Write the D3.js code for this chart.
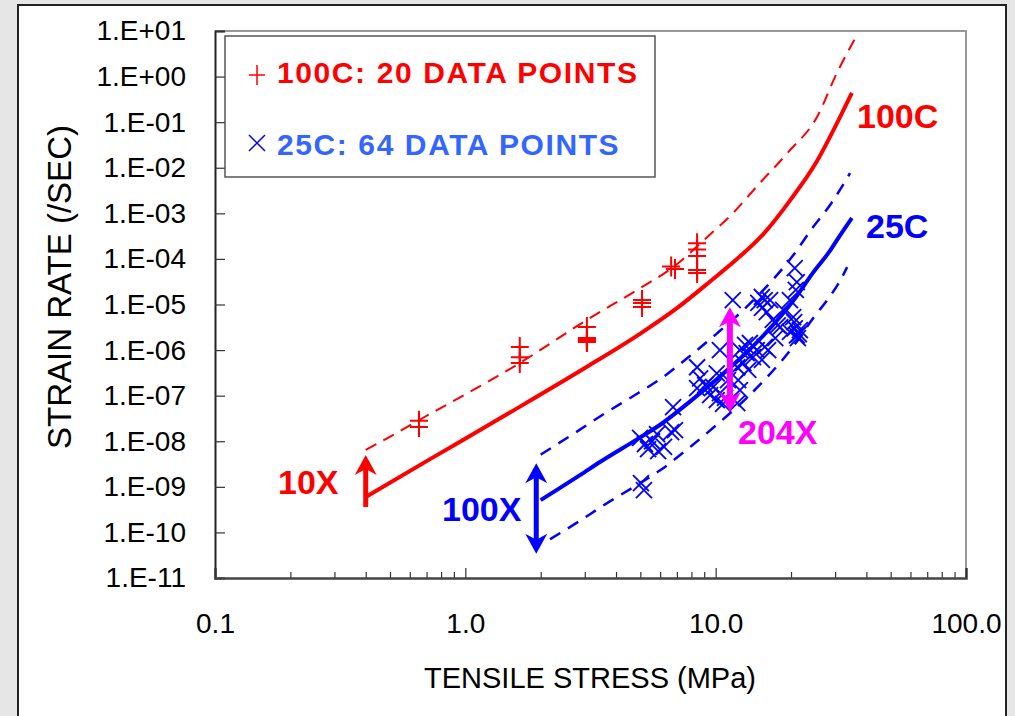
<!DOCTYPE html>
<html>
<head>
<meta charset="utf-8">
<script src="https://cdn.jsdelivr.net/npm/d3@7"></script>
<style>
  body { margin: 0; background: #e6e6e6; font-family: "Liberation Sans", Arial, sans-serif; }
</style>
</head>
<body>
<svg id="chart"></svg>
<script>
// ---- data ----
// 100C model line and upper band (MPa, 1/sec)
let red100Stress = [0.4, 0.72, 1.5, 3.06, 5.0, 7.0, 9.5, 12.0, 15.5, 19.8, 25.4, 30.0, 35]
let red100Rate = [6.0e-10, 4.0e-9, 4.2e-8, 4.3e-7, 2.3e-6, 8.3e-6, 3.2e-5, 9.3e-5, 3.5e-4, 1.9e-3, 1.4e-2, 7.9e-2, 0.44]
let red100UpperStress = [0.4, 0.456, 0.66, 1.65, 3.06, 5.0, 6.76, 9.24, 11.7, 15.0, 19.5, 25.4, 30.5, 36.7]
let red100UpperRate = [6.5e-9, 9.5e-9, 3.0e-8, 5.2e-7, 4.6e-6, 2.3e-5, 6.6e-5, 3.0e-4, 1.0e-3, 4.6e-3, 2.2e-2, 0.13, 1.2, 8.1]

// 25C model line and band
let blue25Stress = [2.0, 2.87, 3.45, 4.85, 6.0, 8.0, 10.1, 13.0, 16.0, 20.4, 24.5, 28.6, 31.4, 35]
let blue25Rate = [5.1e-10, 1.8e-9, 3.5e-9, 1.1e-8, 2.3e-8, 7.9e-8, 2.3e-7, 7.9e-7, 2.5e-6, 1.2e-5, 5.0e-5, 1.5e-4, 3.3e-4, 7.9e-4]
let blue25UpperStress = [2.0, 2.87, 3.45, 4.85, 6.0, 8.0, 10.1, 13.0, 16.0, 20.4, 24.5, 28.6, 31.4, 34.4]
let blue25UpperRate = [5.1e-9, 1.8e-8, 3.5e-8, 1.1e-7, 2.3e-7, 7.9e-7, 2.3e-6, 7.9e-6, 2.5e-5, 1.2e-4, 5.0e-4, 1.5e-3, 3.3e-3, 7.6e-3]
let blue25LowerStress = [2.18, 2.87, 3.45, 4.85, 6.0, 8.0, 10.1, 13.0, 16.0, 20.4, 24.5, 28.6, 31.4, 33.5]
let blue25LowerRate = [7.1e-11, 1.8e-10, 3.5e-10, 1.1e-9, 2.3e-9, 7.9e-9, 2.3e-8, 7.9e-8, 2.5e-7, 1.2e-6, 5.0e-6, 1.5e-5, 3.3e-5, 6.6e-5]

// test points
let pts100Stress = [0.653, 0.653, 1.65, 1.65, 1.65, 3.06, 3.06, 3.06, 3.06, 3.06,
  5.08, 5.08, 5.08, 6.64, 6.88, 8.43, 8.43, 8.43, 8.43, 8.43]
let pts100Rate = [2.8e-8, 2.05e-8, 1.17e-6, 7.0e-7, 5.2e-7, 3.2e-6, 1.84e-6, 1.7e-6, 1.6e-6, 1.5e-6,
  1.25e-5, 1.08e-5, 8.8e-6, 6.8e-5, 6.0e-5, 2.2e-4, 1.6e-4, 1.16e-4, 5.7e-5, 4.9e-5]

let pts25Stress = [5.03, 5.17, 4.99, 5.22, 5.37, 5.57, 5.83, 5.89, 6.22, 6.64,
  6.88, 6.76, 8.43, 8.67, 8.43, 9.77, 10.1, 10.4, 10.4, 10.1,
  10.7, 11.7, 12.2, 12.3, 12.5, 12.2, 12.9, 13.5, 13.3, 13.7,
  14.1, 14.6, 15.3, 15.7, 17.3, 15.3, 16.5, 15.3, 16.0, 16.9,
  17.7, 19.8, 20.4, 20.7, 21.1, 19.8, 21.7, 20.7, 21.1, 18.1,
  18.6, 14.8, 13.1, 11.2, 9.5, 9.08, 15.7, 20.6, 21.3, 16.2,
  12.5, 10.9, 20.9, 21.5]
let pts25Rate = [1.2e-9, 8.5e-10, 1.18e-8, 8.7e-9, 6.7e-9, 1.0e-8, 1.44e-8, 6.1e-9, 7.5e-9, 1.59e-8,
  1.76e-8, 5.6e-8, 4.2e-7, 2.4e-7, 1.47e-7, 1.55e-7, 3.1e-7, 1.0e-6, 1.14e-7, 8.0e-8,
  6.6e-8, 1.25e-5, 4.2e-7, 2.2e-7, 1.33e-7, 6.9e-8, 5.2e-7, 3.7e-7, 8.6e-7, 1.43e-6,
  7.0e-7, 1.0e-6, 6.1e-7, 1.17e-6, 1.84e-6, 1.46e-5, 1.25e-5, 8.4e-6, 6.8e-6, 4.6e-6,
  3.5e-6, 1.25e-5, 5.3e-6, 3.0e-6, 2.1e-6, 2.5e-6, 2.75e-6, 6.3e-5, 3.1e-5, 3.2e-6,
  7.6e-6, 1.08e-5, 1.3e-6, 2.2e-7, 1.03e-7, 1.7e-7, 1.25e-5, 4.1e-6, 1.84e-6, 1.0e-6,
  1.0e-6, 8.9e-8, 2.1e-5, 2.25e-6]

// scatter-band arrows: stress, from rate, to rate
let arrowLabels = ['10X', '100X', '204X']
let arrowStress = [0.4, 1.92, 11.4]
let arrowFrom = [3.6e-10, 3.4e-11, 4.4e-8]
let arrowTo = [5.0e-9, 3.3e-9, 8.7e-6]

let yExponents = d3.range(-11, 2)
let xMajor = [0.1, 1, 10, 100]

// ---- layout ----
let width = 1015
let height = 716
let plot = { left: 215, right: 966, top: 31, bottom: 578 }

let svg = d3.select('#chart').attr('width', width).attr('height', height)

svg.append('rect')
  .attr('x', 18).attr('y', 5)
  .attr('width', 988).attr('height', 730)
  .attr('fill', '#fff')
  .attr('stroke', '#222')
  .attr('stroke-width', 2)

let x = d3.scaleLog().domain([0.1, 100]).range([plot.left, plot.right])
let y = d3.scaleLog().domain([1e-11, 10]).range([plot.bottom, plot.top])

svg.append('clipPath').attr('id', 'clip')
  .append('rect')
  .attr('x', plot.left).attr('y', plot.top)
  .attr('width', plot.right - plot.left).attr('height', plot.bottom - plot.top)

// plot frame (top/right)
svg.append('path')
  .attr('d', `M${plot.left},${plot.top}H${plot.right}V${plot.bottom}`)
  .attr('fill', 'none')
  .attr('stroke', '#999')
  .attr('stroke-width', 2)

// y axis
let yAxis = d3.axisLeft(y)
  .tickValues(yExponents.map(e => Math.pow(10, e)))
  .tickSize(-10)
  .tickPadding(29)
  .tickFormat(d => {
    let e = Math.round(Math.log10(d))
    return '1.E' + (e < 0 ? '-' : '+') + String(Math.abs(e)).padStart(2, '0')
  })

let gy = svg.append('g')
  .attr('transform', `translate(${plot.left},0)`)
  .call(yAxis)
gy.select('.domain').attr('stroke', '#222').attr('stroke-width', 2)
gy.selectAll('.tick line').attr('stroke', '#333').attr('stroke-width', 1.2)
gy.selectAll('.tick text')
  .attr('font-family', '"Liberation Sans", Arial, sans-serif')
  .attr('font-size', 28)
  .attr('fill', '#000')

// x axis
let xMinor = []
xMajor.slice(0, 3).forEach(m => d3.range(2, 10).forEach(k => xMinor.push(m * k)))

let gxMinor = svg.append('g')
  .attr('transform', `translate(0,${plot.bottom})`)
  .call(d3.axisBottom(x).tickValues(xMinor).tickSize(-6).tickFormat(''))
gxMinor.select('.domain').remove()
gxMinor.selectAll('.tick line').attr('stroke', '#333').attr('stroke-width', 1.2)

let gx = svg.append('g')
  .attr('transform', `translate(0,${plot.bottom})`)
  .call(d3.axisBottom(x).tickValues(xMajor).tickSize(-10).tickPadding(35).tickFormat(d3.format('.1f')))
gx.select('.domain').attr('stroke', '#444').attr('stroke-width', 2.5)
gx.selectAll('.tick line').attr('stroke', '#333').attr('stroke-width', 1.2)
gx.selectAll('.tick text')
  .attr('font-family', '"Liberation Sans", Arial, sans-serif')
  .attr('font-size', 28)
  .attr('fill', '#000')

// axis titles
svg.append('text')
  .attr('x', 590).attr('y', 688)
  .attr('text-anchor', 'middle')
  .attr('font-size', 29)
  .text('TENSILE STRESS (MPa)')

svg.append('text')
  .attr('transform', 'translate(71,287) rotate(-90)')
  .attr('text-anchor', 'middle')
  .attr('font-size', 33)
  .text('STRAIN RATE (/SEC)')

// ---- lines ----
let line = d3.line()
  .x(d => x(d[0]))
  .y(d => y(d[1]))
  .curve(d3.curveMonotoneX)

let series = [
  { xs: red100UpperStress, ys: red100UpperRate, color: '#ff0000', w: 2, dash: '12,8' },
  { xs: red100Stress, ys: red100Rate, color: '#ff0000', w: 4, dash: null },
  { xs: blue25UpperStress, ys: blue25UpperRate, color: '#0000ff', w: 2.5, dash: '12,9' },
  { xs: blue25LowerStress, ys: blue25LowerRate, color: '#0000ff', w: 2.5, dash: '12,9' },
  { xs: blue25Stress, ys: blue25Rate, color: '#0000ff', w: 4, dash: null }
]

let gLines = svg.append('g').attr('clip-path', 'url(#clip)')
series.forEach(s => {
  gLines.append('path')
    .datum(s.xs.map((v, i) => [v, s.ys[i]]))
    .attr('d', line)
    .attr('fill', 'none')
    .attr('stroke', s.color)
    .attr('stroke-width', s.w)
    .attr('stroke-dasharray', s.dash)
})

// ---- test points ----
gLines.selectAll('.p100')
  .data(pts100Stress.map((v, i) => [v, pts100Rate[i]]))
  .enter()
  .append('path')
  .attr('class', 'p100')
  .attr('transform', d => `translate(${x(d[0])},${y(d[1])})`)
  .attr('d', 'M-9,0H9M0,-10V10')
  .attr('stroke', '#ff0000')
  .attr('stroke-width', 2)

gLines.selectAll('.p25')
  .data(pts25Stress.map((v, i) => [v, pts25Rate[i]]))
  .enter()
  .append('path')
  .attr('class', 'p25')
  .attr('transform', d => `translate(${x(d[0])},${y(d[1])})`)
  .attr('d', 'M-8,-8L8,8M-8,8L8,-8')
  .attr('stroke', '#0000ff')
  .attr('stroke-width', 1.8)

// ---- arrows ----
let arrowColors = ['#ff0000', '#0000ff', '#ff00ff']
let arrowWidths = [5, 5, 6]
let arrowDouble = [false, true, true]

function head(tx, ty, dir, color) {
  // dir = -1 points up, +1 points down
  let L = 20, W = 11
  svg.append('path')
    .attr('d', `M${tx},${ty}L${tx + W},${ty - dir * L}L${tx},${ty - dir * (L - 6)}L${tx - W},${ty - dir * L}Z`)
    .attr('fill', color)
}

arrowStress.forEach((s, i) => {
  let px = x(s)
  let top = y(arrowTo[i])
  let bot = y(arrowFrom[i])
  svg.append('line')
    .attr('x1', px).attr('x2', px)
    .attr('y1', top + 10)
    .attr('y2', arrowDouble[i] ? bot - 10 : bot)
    .attr('stroke', arrowColors[i])
    .attr('stroke-width', arrowWidths[i])
  head(px, top, -1, arrowColors[i])
  if (arrowDouble[i]) head(px, bot, 1, arrowColors[i])
})

// labels
let labels = [
  { t: '100C', x: 857, y: 128, c: '#ff0000' },
  { t: '25C', x: 866, y: 238, c: '#0000ff' },
  { t: arrowLabels[0], x: 278, y: 494, c: '#ff0000' },
  { t: arrowLabels[1], x: 442, y: 521, c: '#0000ff' },
  { t: arrowLabels[2], x: 738, y: 444, c: '#ff00ff' }
]
svg.selectAll('.lbl')
  .data(labels)
  .enter()
  .append('text')
  .attr('class', 'lbl')
  .attr('x', d => d.x)
  .attr('y', d => d.y)
  .attr('font-size', 34)
  .attr('font-weight', 'bold')
  .attr('fill', d => d.c)
  .text(d => d.t)

// ---- legend ----
let legend = svg.append('g')
legend.append('rect')
  .attr('x', 225).attr('y', 36)
  .attr('width', 430).attr('height', 141)
  .attr('fill', '#fff')
  .attr('stroke', '#555')
  .attr('stroke-width', 1.5)

legend.append('path')
  .attr('d', 'M249,75H265M257,65V85')
  .attr('stroke', '#ff0000').attr('stroke-width', 1.5)
legend.append('text')
  .attr('x', 277).attr('y', 83)
  .attr('font-size', 30).attr('font-weight', 'bold')
  .attr('letter-spacing', 1.6)
  .attr('fill', '#ff0000')
  .text('100C: 20 DATA POINTS')

legend.append('path')
  .attr('d', 'M249,135L265,151M249,151L265,135')
  .attr('stroke', '#0000ff').attr('stroke-width', 1.5)
legend.append('text')
  .attr('x', 277).attr('y', 155)
  .attr('font-size', 30).attr('font-weight', 'bold')
  .attr('letter-spacing', 1.6)
  .attr('fill', '#3366ff')
  .text('25C: 64 DATA POINTS')
</script>
</body>
</html>
